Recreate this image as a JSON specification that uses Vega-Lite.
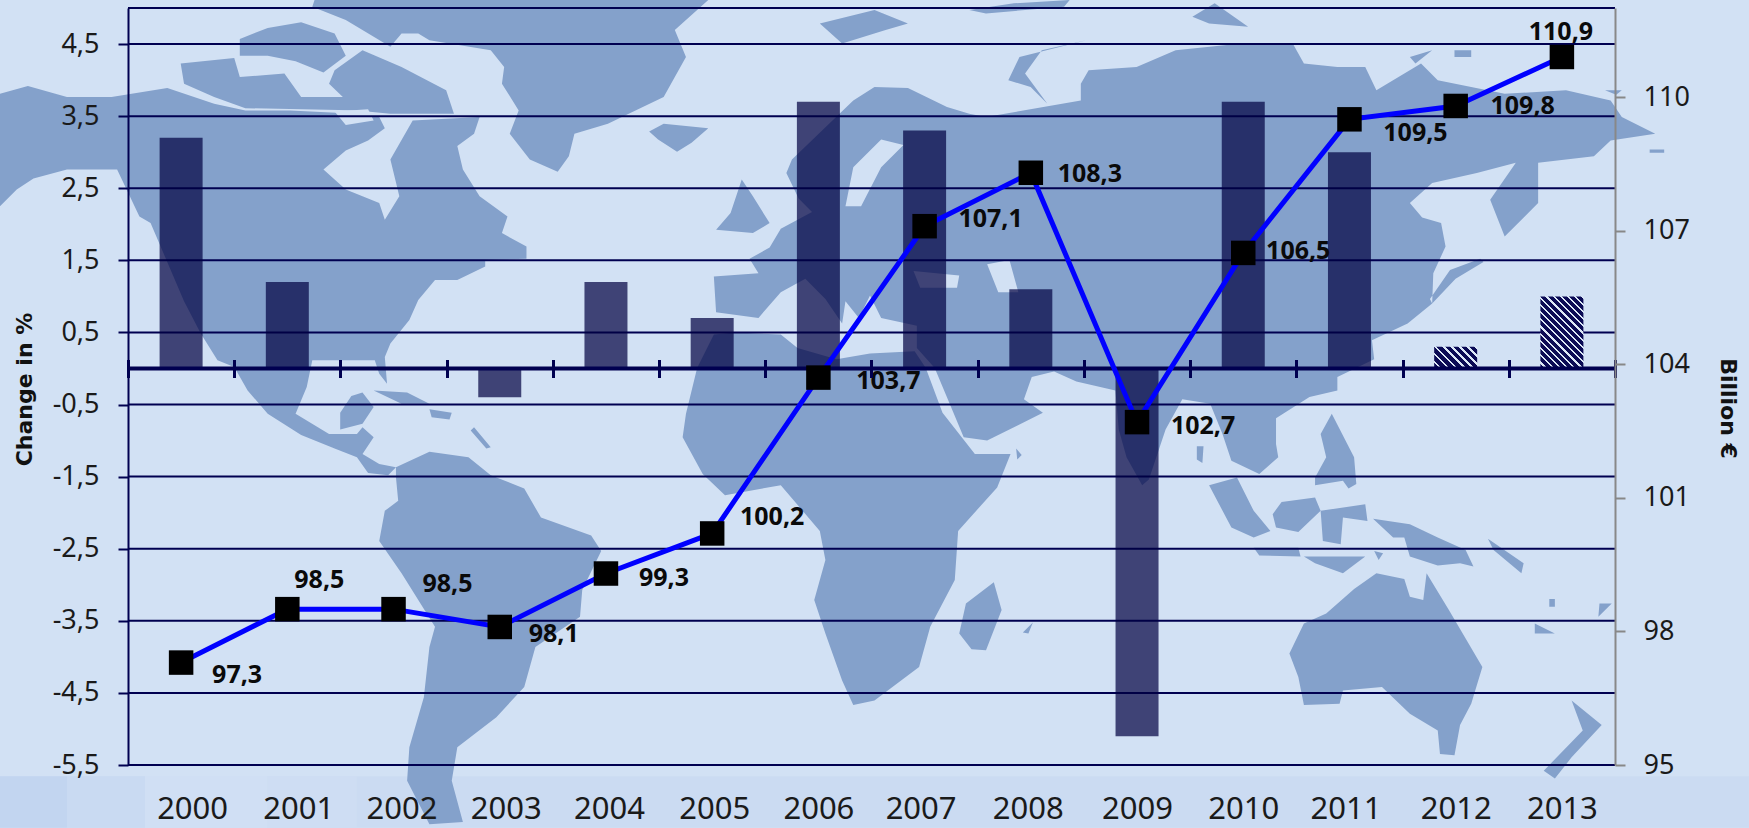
{"$schema":"https://vega.github.io/schema/vega-lite/v6.json","autosize":{"type":"none"},"padding":{"left":128,"top":8,"right":134,"bottom":63},"width":1487,"height":757,"background":"#D2E1F4","config":{"view":{"stroke":null}},"data":{"values":[{"year":"2000","change":3.2,"billions":97.3,"label":"97,3"},{"year":"2001","change":1.2,"billions":98.5,"label":"98,5"},{"year":"2002","change":0,"billions":98.5,"label":"98,5"},{"year":"2003","change":-0.4,"billions":98.1,"label":"98,1"},{"year":"2004","change":1.2,"billions":99.3,"label":"99,3"},{"year":"2005","change":0.7,"billions":100.2,"label":"100,2"},{"year":"2006","change":3.7,"billions":103.7,"label":"103,7"},{"year":"2007","change":3.3,"billions":107.1,"label":"107,1"},{"year":"2008","change":1.1,"billions":108.3,"label":"108,3"},{"year":"2009","change":-5.1,"billions":102.7,"label":"102,7"},{"year":"2010","change":3.7,"billions":106.5,"label":"106,5"},{"year":"2011","change":3.0,"billions":109.5,"label":"109,5"},{"year":"2012","change":0.3,"billions":109.8,"label":"109,8"},{"year":"2013","change":1.0,"billions":110.9,"label":"110,9"}]},"resolve":{"scale":{"y":"independent"},"axis":{"y":"independent"}},"layer":[
{"data":{"values":[
{"kind":"band3","type":"Feature","geometry":{"type":"Polygon","coordinates":[[[0,696],[1568,696],[1568,742],[0,742],[0,696]]]}},
{"kind":"band1","type":"Feature","geometry":{"type":"Polygon","coordinates":[[[0,696],[60,696],[60,742],[0,742],[0,696]]]}},
{"kind":"band2","type":"Feature","geometry":{"type":"Polygon","coordinates":[[[60,696],[130,696],[130,742],[60,742],[60,696]]]}},
{"kind":"band4","type":"Feature","geometry":{"type":"Polygon","coordinates":[[[130,696],[240,696],[240,742],[130,742],[130,696]]]}},
{"kind":"band5","type":"Feature","geometry":{"type":"Polygon","coordinates":[[[240,696],[320,696],[320,742],[240,742],[240,696]]]}},
{"kind":"land","type":"Feature","geometry":{"type":"MultiPolygon","coordinates":[
[[[0,84],[25,77],[60,87],[100,87],[150,79],[192,93],[220,99],[260,99],[320,102],[340,105],[345,115],[330,126],[310,135],[290,152],[310,170],[340,182],[345,197],[358,176],[350,143],[370,108],[430,105],[425,120],[410,131],[415,152],[430,176],[455,194],[450,209],[472,221],[472,232],[435,233],[435,239],[410,251],[390,251],[375,269],[367,287],[350,308],[345,320],[347,344],[340,335],[336,323],[280,323],[275,347],[265,371],[295,389],[320,389],[325,383],[335,392],[325,407],[340,416],[355,419],[348,426],[330,424],[320,410],[300,402],[270,390],[240,371],[222,350],[210,329],[195,323],[180,299],[165,270],[135,200],[125,194],[105,152],[60,152],[30,160],[15,170],[0,185],[0,84]]],
[[[305,370],[315,355],[325,352],[335,365],[325,380],[305,385],[305,370]]],
[[[335,350],[365,352],[385,362],[360,362],[335,350]]],
[[[385,367],[405,370],[403,376],[387,374],[385,367]]],
[[[425,383],[440,401],[436,402],[422,386],[425,383]]],
[[[162,57],[210,52],[215,69],[255,66],[270,87],[310,87],[325,99],[220,97],[192,87],[165,75],[162,57]]],
[[[215,35],[240,25],[270,20],[300,30],[310,50],[290,65],[265,55],[240,50],[215,50],[215,35]]],
[[[300,63],[325,45],[360,60],[400,81],[407,102],[375,102],[350,102],[320,99],[295,75],[300,63]]],
[[[282,0],[635,0],[605,27],[615,51],[595,87],[545,111],[515,120],[510,140],[500,154],[475,143],[457,120],[465,99],[450,75],[452,60],[440,45],[385,36],[375,30],[360,30],[350,42],[310,18],[280,6],[282,0]]],
[[[582,118],[595,111],[635,115],[620,128],[607,136],[590,125],[582,118]]],
[[[355,419],[385,405],[420,410],[440,426],[470,438],[485,464],[530,480],[539,494],[522,529],[520,553],[480,580],[470,616],[445,643],[410,670],[405,700],[415,737],[385,739],[365,700],[367,670],[380,625],[385,580],[390,562],[360,514],[340,485],[345,458],[357,449],[355,428],[355,419]]],
[[[640,300],[660,298],[700,300],[715,312],[750,322],[780,317],[820,315],[830,330],[845,370],[874,407],[906,407],[894,437],[859,476],[856,520],[834,562],[824,598],[784,628],[765,632],[755,610],[740,568],[730,538],[740,502],[735,476],[700,435],[650,444],[630,425],[612,392],[615,371],[625,330],[640,300]]],
[[[891,522],[898,547],[884,583],[871,582],[860,568],[866,541],[891,522]]],
[[[784,78],[814,79],[849,96],[869,102],[884,105],[969,90],[969,75],[976,63],[1019,60],[1054,45],[1104,40],[1159,39],[1169,57],[1199,60],[1224,60],[1234,81],[1274,57],[1289,72],[1349,84],[1404,81],[1444,90],[1454,105],[1484,120],[1444,126],[1429,140],[1379,146],[1379,182],[1349,212],[1336,179],[1359,146],[1324,155],[1284,164],[1264,182],[1275,195],[1292,200],[1296,221],[1285,245],[1284,272],[1262,290],[1230,305],[1232,322],[1199,338],[1199,350],[1174,356],[1144,375],[1144,398],[1146,410],[1129,425],[1104,413],[1096,389],[1085,362],[1060,358],[1045,385],[1030,430],[1024,435],[1010,410],[1003,385],[1000,350],[965,342],[945,333],[925,338],[918,358],[935,370],[885,395],[864,392],[838,330],[822,312],[822,292],[790,285],[780,265],[770,285],[758,270],[755,290],[740,268],[722,250],[700,262],[680,285],[642,280],[640,248],[680,245],[672,232],[690,222],[700,205],[728,190],[716,178],[705,155],[710,143],[765,90],[784,78]]],
[[[665,161],[675,176],[690,200],[675,209],[642,206],[655,191],[665,161]]],
[[[904,72],[914,51],[974,36],[934,45],[919,66],[939,93],[924,78],[904,72]]],
[[[869,9],[909,3],[959,0],[954,6],[884,12],[869,9]]],
[[[735,21],[755,39],[794,27],[814,21],[784,9],[735,21]]],
[[[1069,15],[1089,3],[1119,24],[1084,21],[1069,15]]],
[[[1264,51],[1284,45],[1269,57],[1264,51]]],
[[[1304,45],[1319,45],[1319,51],[1304,51],[1304,45]]],
[[[1439,81],[1454,81],[1449,85],[1439,81]]],
[[[1479,134],[1492,134],[1492,137],[1479,137],[1479,134]]],
[[[1327,232],[1300,242],[1282,268],[1284,272],[1305,250],[1330,235],[1327,232]]],
[[[1073,400],[1079,400],[1078,415],[1073,412],[1073,400]]],
[[[1194,371],[1214,410],[1216,434],[1209,438],[1204,431],[1179,435],[1179,428],[1189,410],[1184,389],[1194,371]]],
[[[1141,461],[1149,450],[1179,446],[1184,458],[1164,477],[1144,473],[1141,461]]],
[[[1184,458],[1224,452],[1226,467],[1204,464],[1202,488],[1186,485],[1184,458]]],
[[[1084,435],[1109,428],[1124,458],[1139,476],[1124,482],[1104,473],[1084,435]]],
[[[1124,491],[1164,491],[1166,499],[1129,498],[1124,491]]],
[[[1169,499],[1224,499],[1204,514],[1179,505],[1169,499]]],
[[[1232,494],[1240,496],[1236,502],[1232,494]]],
[[[1231,465],[1264,470],[1289,482],[1314,493],[1321,508],[1309,505],[1289,507],[1264,499],[1259,482],[1249,482],[1231,465]]],
[[[1334,483],[1366,505],[1364,514],[1339,493],[1334,483]]],
[[[1156,586],[1169,559],[1189,550],[1214,528],[1234,514],[1259,519],[1264,535],[1276,538],[1279,514],[1299,547],[1329,598],[1319,631],[1309,650],[1304,677],[1291,676],[1289,655],[1264,640],[1239,616],[1204,619],[1201,631],[1169,632],[1164,607],[1156,586]]],
[[[1409,628],[1436,650],[1409,679],[1394,698],[1384,691],[1419,655],[1409,628]]],
[[[1389,537],[1394,537],[1394,544],[1389,544],[1389,537]]],
[[[1434,541],[1445,541],[1433,553],[1434,541]]],
[[[1376,559],[1394,568],[1376,568],[1376,559]]],
[[[917,567],[926,558],[922,568],[917,567]]],
[[[911,402],[916,408],[912,412],[911,402]]]
]}},
{"kind":"water","type":"Feature","geometry":{"type":"MultiPolygon","coordinates":[
[[[765,150],[790,125],[810,130],[790,150],[772,185],[758,185],[765,150]]],
[[[819,243],[860,247],[858,258],[825,258],[819,243]]],
[[[885,237],[905,233],[913,262],[895,262],[885,237]]],
[[[300,100],[330,98],[335,108],[310,112],[300,100]]]
]}}
]},"mark":{"type":"geoshape","strokeWidth":0,"clip":false},"projection":{"type":"identity","scale":1.1154,"translate":[-128,-8]},"encoding":{"color":{"field":"kind","type":"nominal","legend":null,"scale":{"domain":["band1","band2","band3","band4","band5","land","water"],"range":["#C2D5F0","#C9DAF2","#CBDBF2","#D0DFF4","#CEDDF3","#84A1CB","#D2E1F4"]}}}},
{"data":{"values":[{"tick":-5.5},{"tick":-4.5},{"tick":-3.5},{"tick":-2.5},{"tick":-1.5},{"tick":-0.5},{"tick":0.5},{"tick":1.5},{"tick":2.5},{"tick":3.5},{"tick":4.5},{"tick":5}]},"mark":{"type":"rule","color":"#000050","strokeWidth":2},"encoding":{"y":{"field":"tick","type":"quantitative","scale":{"domain":[-5.5,5],"nice":false,"zero":false},"axis":{"orient":"left","zindex":1,"values":[-5.5,-4.5,-3.5,-2.5,-1.5,-0.5,0.5,1.5,2.5,3.5,4.5],"labelExpr":"replace(replace(format(datum.value,'.1f'),'.',','),'−','-')","labelFont":"Noto Sans","labelFontSize":27,"labelColor":"#1a1a1a","labelPadding":19,"labelOverlap":false,"tickColor":"#000050","tickWidth":2,"tickSize":10,"domainColor":"#000050","domainWidth":2,"grid":false,"title":"Change in %","titleFont":"DejaVu Sans","titleFontSize":22,"titleFontWeight":"bold","titleColor":"#111111","titleX":-92,"titleY":381}}}},
{"transform":[{"filter":"datum.year<'2012'"}],"mark":{"type":"bar","width":43,"color":"#000040","opacity":0.7},"encoding":{"x":{"field":"year","type":"ordinal","scale":{"domain":["2000","2001","2002","2003","2004","2005","2006","2007","2008","2009","2010","2011","2012","2013"],"paddingInner":0,"paddingOuter":0},"axis":{"orient":"bottom","zindex":1,"title":null,"offset":-405.5,"domain":false,"tickBand":"extent","tickSize":18,"tickWidth":3,"tickColor":"#000050","labelAngle":0,"labelPadding":417,"labelFont":"Noto Sans","labelFontSize":31,"labelColor":"#1a1a1a","labelOverlap":false,"labelBound":false,"labelFlush":false,"labelOffset":{"condition":[{"test":"datum.value<='2001'","value":11},{"test":"datum.value=='2002'","value":8},{"test":"datum.value=='2003'","value":6},{"test":"datum.value=='2004'","value":3},{"test":"datum.value=='2005'","value":2},{"test":"datum.value=='2007'||datum.value=='2011'","value":-4},{"test":"datum.value=='2008'","value":-3}],"value":0}}},"y":{"field":"change","type":"quantitative","scale":{"domain":[-5.5,5],"nice":false,"zero":false},"axis":null}}},
{"transform":[{"filter":"datum.year=='2012'"}],"mark":{"type":"bar","width":43,"color":{"gradient":"linear","x1":0,"y1":1,"x2":1.2,"y2":0.397,"stops":[{"offset":0,"color":"#0B0B55"},{"offset":0.0875,"color":"#0B0B55"},{"offset":0.0875,"color":"#DDE8F6"},{"offset":0.125,"color":"#DDE8F6"},{"offset":0.125,"color":"#0B0B55"},{"offset":0.2125,"color":"#0B0B55"},{"offset":0.2125,"color":"#DDE8F6"},{"offset":0.25,"color":"#DDE8F6"},{"offset":0.25,"color":"#0B0B55"},{"offset":0.3375,"color":"#0B0B55"},{"offset":0.3375,"color":"#DDE8F6"},{"offset":0.375,"color":"#DDE8F6"},{"offset":0.375,"color":"#0B0B55"},{"offset":0.4625,"color":"#0B0B55"},{"offset":0.4625,"color":"#DDE8F6"},{"offset":0.5,"color":"#DDE8F6"},{"offset":0.5,"color":"#0B0B55"},{"offset":0.5875,"color":"#0B0B55"},{"offset":0.5875,"color":"#DDE8F6"},{"offset":0.625,"color":"#DDE8F6"},{"offset":0.625,"color":"#0B0B55"},{"offset":0.7125,"color":"#0B0B55"},{"offset":0.7125,"color":"#DDE8F6"},{"offset":0.75,"color":"#DDE8F6"},{"offset":0.75,"color":"#0B0B55"},{"offset":0.8375,"color":"#0B0B55"},{"offset":0.8375,"color":"#DDE8F6"},{"offset":0.875,"color":"#DDE8F6"},{"offset":0.875,"color":"#0B0B55"},{"offset":0.9625,"color":"#0B0B55"},{"offset":0.9625,"color":"#DDE8F6"},{"offset":1,"color":"#DDE8F6"}]}},"encoding":{"x":{"field":"year","type":"ordinal"},"y":{"field":"change","type":"quantitative","scale":{"domain":[-5.5,5],"nice":false,"zero":false},"axis":null}}},
{"transform":[{"filter":"datum.year=='2013'"}],"mark":{"type":"bar","width":43,"color":{"gradient":"linear","x1":0,"y1":1,"x2":0.702,"y2":-0.178,"stops":[{"offset":0,"color":"#0B0B55"},{"offset":0.044,"color":"#0B0B55"},{"offset":0.044,"color":"#DDE8F6"},{"offset":0.0625,"color":"#DDE8F6"},{"offset":0.0625,"color":"#0B0B55"},{"offset":0.1065,"color":"#0B0B55"},{"offset":0.1065,"color":"#DDE8F6"},{"offset":0.125,"color":"#DDE8F6"},{"offset":0.125,"color":"#0B0B55"},{"offset":0.169,"color":"#0B0B55"},{"offset":0.169,"color":"#DDE8F6"},{"offset":0.1875,"color":"#DDE8F6"},{"offset":0.1875,"color":"#0B0B55"},{"offset":0.2315,"color":"#0B0B55"},{"offset":0.2315,"color":"#DDE8F6"},{"offset":0.25,"color":"#DDE8F6"},{"offset":0.25,"color":"#0B0B55"},{"offset":0.294,"color":"#0B0B55"},{"offset":0.294,"color":"#DDE8F6"},{"offset":0.3125,"color":"#DDE8F6"},{"offset":0.3125,"color":"#0B0B55"},{"offset":0.3565,"color":"#0B0B55"},{"offset":0.3565,"color":"#DDE8F6"},{"offset":0.375,"color":"#DDE8F6"},{"offset":0.375,"color":"#0B0B55"},{"offset":0.419,"color":"#0B0B55"},{"offset":0.419,"color":"#DDE8F6"},{"offset":0.4375,"color":"#DDE8F6"},{"offset":0.4375,"color":"#0B0B55"},{"offset":0.4815,"color":"#0B0B55"},{"offset":0.4815,"color":"#DDE8F6"},{"offset":0.5,"color":"#DDE8F6"},{"offset":0.5,"color":"#0B0B55"},{"offset":0.544,"color":"#0B0B55"},{"offset":0.544,"color":"#DDE8F6"},{"offset":0.5625,"color":"#DDE8F6"},{"offset":0.5625,"color":"#0B0B55"},{"offset":0.6065,"color":"#0B0B55"},{"offset":0.6065,"color":"#DDE8F6"},{"offset":0.625,"color":"#DDE8F6"},{"offset":0.625,"color":"#0B0B55"},{"offset":0.669,"color":"#0B0B55"},{"offset":0.669,"color":"#DDE8F6"},{"offset":0.6875,"color":"#DDE8F6"},{"offset":0.6875,"color":"#0B0B55"},{"offset":0.7315,"color":"#0B0B55"},{"offset":0.7315,"color":"#DDE8F6"},{"offset":0.75,"color":"#DDE8F6"},{"offset":0.75,"color":"#0B0B55"},{"offset":0.794,"color":"#0B0B55"},{"offset":0.794,"color":"#DDE8F6"},{"offset":0.8125,"color":"#DDE8F6"},{"offset":0.8125,"color":"#0B0B55"},{"offset":0.8565,"color":"#0B0B55"},{"offset":0.8565,"color":"#DDE8F6"},{"offset":0.875,"color":"#DDE8F6"},{"offset":0.875,"color":"#0B0B55"},{"offset":0.919,"color":"#0B0B55"},{"offset":0.919,"color":"#DDE8F6"},{"offset":0.9375,"color":"#DDE8F6"},{"offset":0.9375,"color":"#0B0B55"},{"offset":0.9815,"color":"#0B0B55"},{"offset":0.9815,"color":"#DDE8F6"},{"offset":1,"color":"#DDE8F6"}]}},"encoding":{"x":{"field":"year","type":"ordinal"},"y":{"field":"change","type":"quantitative","scale":{"domain":[-5.5,5],"nice":false,"zero":false},"axis":null}}},
{"data":{"values":[{"tick":0}]},"mark":{"type":"rule","color":"#000050","strokeWidth":4},"encoding":{"y":{"field":"tick","type":"quantitative","scale":{"domain":[-5.5,5],"nice":false,"zero":false},"axis":null}}},
{"encoding":{"x":{"field":"year","type":"ordinal"},"y":{"field":"billions","type":"quantitative","scale":{"domain":[95,112],"nice":false,"zero":false},"axis":{"orient":"right","zindex":1,"values":[95,98,101,104,107,110],"format":"d","labelFont":"Noto Sans","labelFontSize":27,"labelColor":"#1a1a1a","labelPadding":18,"labelOverlap":false,"tickColor":"#888888","tickWidth":2,"tickSize":10,"domainColor":"#888888","domainWidth":2,"grid":false,"title":"Billion €","titleFont":"DejaVu Sans","titleFontSize":22,"titleFontWeight":"bold","titleColor":"#111111","titleAngle":90,"titleX":100,"titleY":400}}},"layer":[
{"mark":{"type":"line","color":"#0000FF","strokeWidth":5}},
{"mark":{"type":"point","shape":"square","filled":true,"color":"#000000","opacity":1,"size":600}},
{"transform":[{"filter":"datum.year=='2000'"}],"mark":{"type":"text","dx":56,"dy":12,"font":"Noto Sans","fontWeight":"bold","fontSize":25,"color":"#0a0a0a"},"encoding":{"text":{"field":"label"}}},
{"transform":[{"filter":"datum.year=='2001'"}],"mark":{"type":"text","dx":32,"dy":-29,"font":"Noto Sans","fontWeight":"bold","fontSize":25,"color":"#0a0a0a"},"encoding":{"text":{"field":"label"}}},
{"transform":[{"filter":"datum.year=='2002'"}],"mark":{"type":"text","dx":54,"dy":-25,"font":"Noto Sans","fontWeight":"bold","fontSize":25,"color":"#0a0a0a"},"encoding":{"text":{"field":"label"}}},
{"transform":[{"filter":"datum.year=='2003'"}],"mark":{"type":"text","dx":54,"dy":7,"font":"Noto Sans","fontWeight":"bold","fontSize":25,"color":"#0a0a0a"},"encoding":{"text":{"field":"label"}}},
{"transform":[{"filter":"datum.year=='2004'"}],"mark":{"type":"text","dx":58,"dy":4,"font":"Noto Sans","fontWeight":"bold","fontSize":25,"color":"#0a0a0a"},"encoding":{"text":{"field":"label"}}},
{"transform":[{"filter":"datum.year=='2005'"}],"mark":{"type":"text","dx":60,"dy":-16,"font":"Noto Sans","fontWeight":"bold","fontSize":25,"color":"#0a0a0a"},"encoding":{"text":{"field":"label"}}},
{"transform":[{"filter":"datum.year=='2006'"}],"mark":{"type":"text","dx":70,"dy":3,"font":"Noto Sans","fontWeight":"bold","fontSize":25,"color":"#0a0a0a"},"encoding":{"text":{"field":"label"}}},
{"transform":[{"filter":"datum.year=='2007'"}],"mark":{"type":"text","dx":66,"dy":-7,"font":"Noto Sans","fontWeight":"bold","fontSize":25,"color":"#0a0a0a"},"encoding":{"text":{"field":"label"}}},
{"transform":[{"filter":"datum.year=='2008'"}],"mark":{"type":"text","dx":59,"dy":1,"font":"Noto Sans","fontWeight":"bold","fontSize":25,"color":"#0a0a0a"},"encoding":{"text":{"field":"label"}}},
{"transform":[{"filter":"datum.year=='2009'"}],"mark":{"type":"text","dx":66,"dy":4,"font":"Noto Sans","fontWeight":"bold","fontSize":25,"color":"#0a0a0a"},"encoding":{"text":{"field":"label"}}},
{"transform":[{"filter":"datum.year=='2010'"}],"mark":{"type":"text","dx":55,"dy":-2,"font":"Noto Sans","fontWeight":"bold","fontSize":25,"color":"#0a0a0a"},"encoding":{"text":{"field":"label"}}},
{"transform":[{"filter":"datum.year=='2011'"}],"mark":{"type":"text","dx":66,"dy":14,"font":"Noto Sans","fontWeight":"bold","fontSize":25,"color":"#0a0a0a"},"encoding":{"text":{"field":"label"}}},
{"transform":[{"filter":"datum.year=='2012'"}],"mark":{"type":"text","dx":67,"dy":0,"font":"Noto Sans","fontWeight":"bold","fontSize":25,"color":"#0a0a0a"},"encoding":{"text":{"field":"label"}}},
{"transform":[{"filter":"datum.year=='2013'"}],"mark":{"type":"text","dx":-1,"dy":-25,"font":"Noto Sans","fontWeight":"bold","fontSize":25,"color":"#0a0a0a"},"encoding":{"text":{"field":"label"}}}
]}
]}
